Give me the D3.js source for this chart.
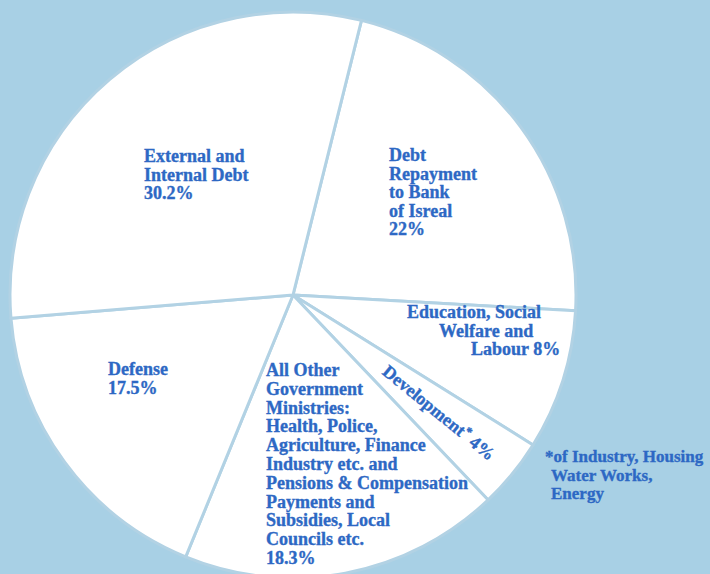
<!DOCTYPE html>
<html>
<head>
<meta charset="utf-8">
<script src="https://cdn.jsdelivr.net/npm/d3@7"></script>
<style>
  body { margin: 0; background: #a8d0e5; }
  svg { display: block; }
  text { font-family: "Liberation Serif", "Times New Roman", serif; font-weight: bold; fill: #2d68c4;
         stroke: #2d68c4; stroke-width: 0.35px; }
</style>
</head>
<body>
<svg id="pie"></svg>
<script>
// slices in clockwise order, starting at the upper line
let categories = ["Debt Repayment to Bank of Isreal", "Education, Social Welfare and Labour",
    "Development", "All Other Government Ministries", "Defense", "External and Internal Debt"];
let shares = [22, 8, 4, 18.3, 17.5, 30.2];

// printed label lines, same order as above
let labelLines = [
    ["Debt", "Repayment", "to Bank", "of Isreal", "22%"],
    ["Education, Social", "Welfare and", "Labour 8%"],
    ["Development* 4%"],
    ["All Other", "Government", "Ministries:", "Health, Police,", "Agriculture, Finance",
        "Industry etc. and", "Pensions & Compensation", "Payments and",
        "Subsidies, Local", "Councils etc.", "18.3%"],
    ["Defense", "17.5%"],
    ["External and", "Internal Debt", "30.2%"]
];
let footnote = ["*of Industry, Housing", "Water Works,", "Energy"];

let w = 710, h = 574;
let cx = 293, cy = 295, r = 283;

let svg = d3.select("#pie")
    .attr("width", w)
    .attr("height", h)

let data = categories.map(function (c, i) {
    return { name: c, share: shares[i], lines: labelLines[i] };
})

let start = 14 * Math.PI / 180;
let pie = d3.pie()
    .sort(null)
    .value(function (d) { return d.share; })
    .startAngle(start)
    .endAngle(start + 2 * Math.PI)

let arc = d3.arc()
    .innerRadius(0)
    .outerRadius(r)

let g = svg.append("g")
    .attr("transform", "translate(" + cx + "," + cy + ")")

let slices = pie(data);

g.selectAll("path")
    .data(slices)
    .enter()
    .append("path")
    .attr("d", arc)
    .attr("fill", "#ffffff")
    .attr("stroke", "#b2d2e4")
    .attr("stroke-width", 3)
    .attr("stroke-linejoin", "round")

// where each label block sits (x of each line, first baseline), hand placed
let labelPos = [
    { x: [389], y: 161, dy: 18.5 },
    { x: [407, 439, 471], y: 318, dy: 18.5 },
    { along: 118 },
    { x: [266], y: 376, dy: 18.8 },
    { x: [108], y: 375, dy: 18.5 },
    { x: [144], y: 162, dy: 18.5 }
];

data.forEach(function (d, i) {
    let p = labelPos[i];
    let t = svg.append("text")
        .attr("font-size", 18)
    if (p.along) {
        // written outward along the middle of the thin slice
        let a = (slices[i].startAngle + slices[i].endAngle) / 2;
        let ux = Math.sin(a), uy = -Math.cos(a);
        let x0 = cx + ux * p.along - uy * 5, y0 = cy + uy * p.along + ux * 5;
        let deg = Math.atan2(uy, ux) * 180 / Math.PI;
        t.attr("transform", "translate(" + x0 + "," + y0 + ") rotate(" + deg + ")")
        t.append("tspan").text("Development")
        t.append("tspan").attr("dy", -6).attr("font-size", 13).text("*")
        t.append("tspan").attr("dy", 6).text(" 4%")
        return;
    }
    d.lines.forEach(function (line, j) {
        t.append("tspan")
            .attr("x", p.x[j] !== undefined ? p.x[j] : p.x[0])
            .attr("y", p.y + j * p.dy)
            .text(line)
    })
})

// footnote for the development slice
let fn = svg.append("text")
    .attr("font-size", 17)
fn.selectAll("tspan")
    .data(footnote)
    .enter()
    .append("tspan")
    .attr("x", function (d, i) { return i == 0 ? 545 : 551; })
    .attr("y", function (d, i) { return 462 + i * 18.5; })
    .text(function (d) { return d; })
</script>
</body>
</html>
